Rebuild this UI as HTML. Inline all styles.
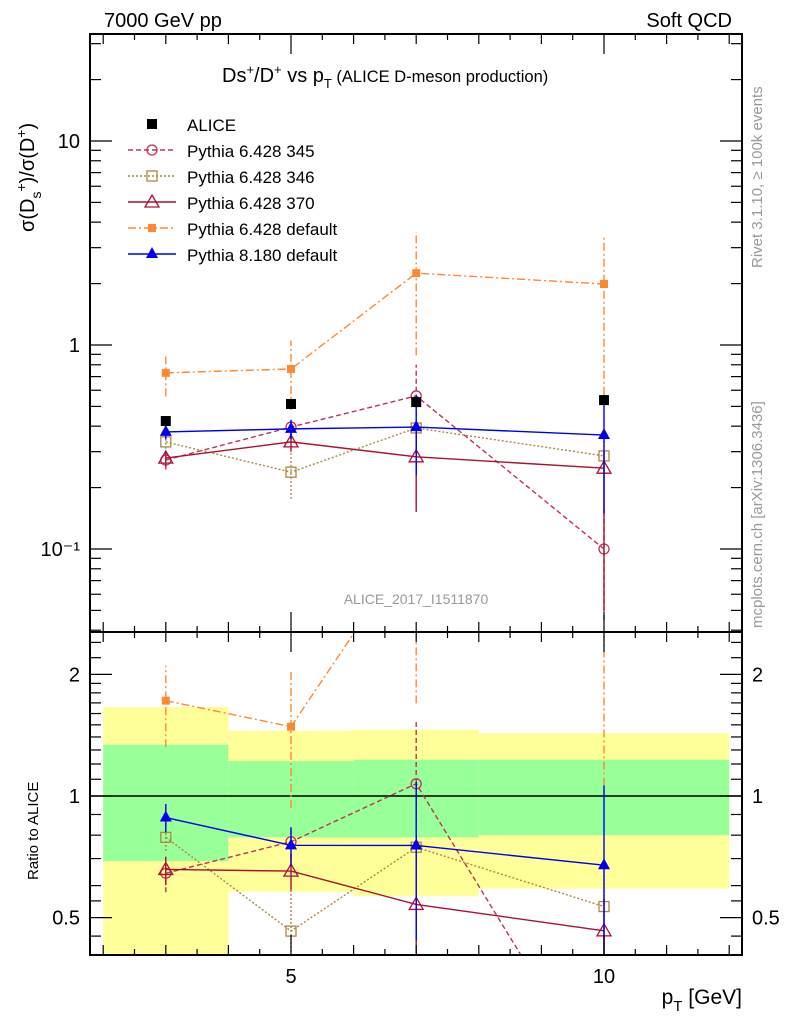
<!DOCTYPE html>
<html><head><meta charset="utf-8"><style>
html,body{margin:0;padding:0;background:#fff;overflow:hidden;width:786px;height:1024px;}
svg{display:block;}
svg text{font-family:"Liberation Sans",sans-serif;}
</style></head><body>
<svg id="c" width="786" height="1024" xmlns="http://www.w3.org/2000/svg">
<rect width="786" height="1024" fill="#fff"/>
<g id="bands"></g>
<g id="ratio"></g>
<g id="main"></g>
<g id="axes"></g>
<text x="104" y="27" font-size="20">7000 GeV pp</text>
<text x="732" y="27" font-size="20" text-anchor="end">Soft QCD</text>
<text x="222" y="82" font-size="20">Ds<tspan dy="-8" font-size="13">+</tspan><tspan dy="8">/D</tspan><tspan dy="-8" font-size="13">+</tspan><tspan dy="8"> vs p</tspan><tspan dy="6" font-size="13">T</tspan><tspan dy="-6" font-size="16.5"> (ALICE D-meson production)</tspan></text>
<text x="416" y="604" font-size="14" fill="#999" text-anchor="middle">ALICE_2017_I1511870</text>
<text transform="translate(762,268) rotate(-90)" font-size="15" fill="#999">Rivet 3.1.10, ≥ 100k events</text>
<text transform="translate(762,628) rotate(-90)" font-size="15" fill="#999">mcplots.cern.ch [arXiv:1306.3436]</text>
<text transform="translate(34,232) rotate(-90)" font-size="20">σ(D<tspan dy="7" font-size="14">s</tspan><tspan dy="-15" font-size="14">+</tspan><tspan dy="8">)/σ(D</tspan><tspan dy="-8" font-size="14">+</tspan><tspan dy="8">)</tspan></text>
<text transform="translate(38,880) rotate(-90)" font-size="15">Ratio to ALICE</text>
<text x="742" y="1004" font-size="21" text-anchor="end">p<tspan dy="7" font-size="15">T</tspan><tspan dy="-7"> [GeV]</tspan></text>
<g id="legend"></g>
</svg>
<script>
const xs=[3,5,7,10];
const alice=[0.424,0.514,0.525,0.537];
const aliceErr=[0.02,0.02,0.02,0.02];
const p345=[0.273,0.396,0.563,0.1];
const p345lo=[0.245,0.36,0.45,0.045];
const p345hi=[0.30,0.43,0.80,0.155];
const p346=[0.335,0.238,0.392,0.286];
const p346lo=[0.31,0.176,0.36,0.22];
const p346hi=[0.36,0.30,0.42,0.35];
const p370=[0.279,0.335,0.283,0.249];
const p370lo=[0.255,0.30,0.152,0.05];
const p370hi=[0.30,0.37,0.42,0.30];
const p6d=[0.73,0.763,2.25,1.99];
const p6dlo=[0.56,0.48,0.89,0.57];
const p6dhi=[0.89,1.05,3.58,3.4];
const p8=[0.375,0.388,0.396,0.362];
const p8lo=[0.345,0.345,0.23,0.15];
const p8hi=[0.405,0.43,0.57,0.57];
const binEdges=[2,4,6,8,12];
const greenLo=[0.69,0.79,0.79,0.80];
const greenHi=[1.34,1.22,1.23,1.23];
const yellowLo=[0.3,0.58,0.565,0.59];
const yellowHi=[1.66,1.45,1.46,1.43];
const ratioTicks=[0.5,1,2];
const xTicks=[5,10];
const mainTicks=[0.1,1,10];
const mainTickLabels=["10\u207B\u00B9","1","10"];

const L=90,R=742,T=34,M=632,B=955;
const X=v=>291+(v-5)*62.6;
const Y=v=>345-Math.log10(v)*204;
const YR=v=>796-Math.log10(v)*404;
const NS="http://www.w3.org/2000/svg";
function mk(tag,parent,attrs){const e=document.createElementNS(NS,tag);for(const k in attrs)e.setAttribute(k,attrs[k]);parent.appendChild(e);return e;}
const gB=document.getElementById('bands'),gR=document.getElementById('ratio'),gM=document.getElementById('main'),gA=document.getElementById('axes'),gL=document.getElementById('legend');

for(let i=0;i<4;i++){
  const x0=X(binEdges[i]),x1=X(binEdges[i+1]);
  const yt=Math.max(M,YR(yellowHi[i])),yb=Math.min(B,YR(yellowLo[i]));
  let r=mk('rect',gB,{x:x0,y:yt,width:x1-x0,height:yb-yt,fill:'#ffff99'});
  
  
  const gt=YR(greenHi[i]),gb=YR(greenLo[i]);
  r=mk('rect',gB,{x:x0,y:gt,width:x1-x0,height:gb-gt,fill:'#99ff99'});
  
  
}
let one=mk('line',gB,{x1:L,x2:R,y1:YR(1),y2:YR(1),stroke:'#000','stroke-width':1.5});



const defs=mk('defs',document.getElementById('c'),{});
const c1=mk('clipPath',defs,{id:'cm'});mk('rect',c1,{x:L,y:T,width:R-L,height:M-T});
const c2=mk('clipPath',defs,{id:'cr'});mk('rect',c2,{x:L,y:M,width:R-L,height:B-M});
gM.setAttribute('clip-path','url(#cm)');gR.setAttribute('clip-path','url(#cr)');

function marker(g,type,x,y,color){
  let e;
  if(type==='circle')e=mk('circle',g,{cx:x,cy:y,r:5,fill:'none',stroke:color,'stroke-width':1.3});
  else if(type==='osq')e=mk('rect',g,{x:x-5,y:y-5,width:10,height:10,fill:'none',stroke:color,'stroke-width':1.3});
  else if(type==='sq')e=mk('rect',g,{x:x-5,y:y-5,width:10,height:10,fill:color});
  else if(type==='fsq')e=mk('rect',g,{x:x-4,y:y-4,width:8,height:8,fill:color});
  else if(type==='otri')e=mk('path',g,{d:`M${x},${y-7}L${x+7},${y+5}L${x-7},${y+5}Z`,fill:'none',stroke:color,'stroke-width':1.3});
  else e=mk('path',g,{d:`M${x},${y-7}L${x+6},${y+4}L${x-6},${y+4}Z`,fill:color});
  return e;
}
const series=[
 {name:'pythia-6428-345',v:p345,lo:p345lo,hi:p345hi,c:'#bb3355',dash:'5,3',m:'circle'},
 {name:'pythia-6428-346',v:p346,lo:p346lo,hi:p346hi,c:'#aa8844',dash:'2,2',m:'osq'},
 {name:'pythia-6428-370',v:p370,lo:p370lo,hi:p370hi,c:'#aa1133',dash:'',m:'otri'},
 {name:'pythia-6428-default',v:p6d,lo:p6dlo,hi:p6dhi,c:'#ff8833',dash:'8,3,2,3',m:'fsq'},
 {name:'pythia-8180-default',v:p8,lo:p8lo,hi:p8hi,c:'#0000ee',dash:'',m:'tri'}
];
function drawSeries(g,s,yf,norm,prefix){
  const pts=xs.map((x,i)=>X(x)+','+yf(s.v[i]/norm[i])).join(' ');
  const pl=mk('polyline',g,{points:pts,fill:'none',stroke:s.c,'stroke-width':1.4,'stroke-dasharray':s.dash});
  
  
  xs.forEach((x,i)=>{
    const e=mk('line',g,{x1:X(x),x2:X(x),y1:yf(s.lo[i]/norm[i]),y2:yf(s.hi[i]/norm[i]),stroke:s.c,'stroke-width':1.4,'stroke-dasharray':s.dash});
    
    
    const m=marker(g,s.m,X(x),yf(s.v[i]/norm[i]),s.c);
    
    
  });
}
const ones=[1,1,1,1];
xs.forEach((x,i)=>{
  const e=mk('line',gM,{x1:X(x),x2:X(x),y1:Y(alice[i]-aliceErr[i]),y2:Y(alice[i]+aliceErr[i]),stroke:'#000','stroke-width':1.4});
  
  
});
series.forEach(s=>drawSeries(gM,s,Y,ones,''));
xs.forEach((x,i)=>{
  const m=marker(gM,'sq',X(x),Y(alice[i]),'#000');
  
  
});
series.forEach(s=>drawSeries(gR,s,YR,alice,'ratio-'));

[[T,M],[M,B]].forEach(([a,b])=>mk('rect',gA,{x:L,y:a,width:R-L,height:b-a,fill:'none',stroke:'#000','stroke-width':2}));
function tk(x1,y1,x2,y2){mk('line',gA,{x1,y1,x2,y2,stroke:'#000','stroke-width':1.2});}
for(let v=2;v<=12;v+=0.5){
  const x=X(v);const len=(v%5===0)?20:(v%1===0?10:6);
  [T,M].forEach(y=>tk(x,y,x,y+len));
  [M,B].forEach(y=>tk(x,y,x,y-len));
}
xTicks.forEach(v=>{const t=mk('text',gA,{x:X(v),y:983,'font-size':20,'text-anchor':'middle'});t.textContent=v;
  
  });
for(let d=-2;d<=1;d++){for(let k=1;k<=9;k++){const v=k*Math.pow(10,d);const y=Y(v);if(y<T||y>M)continue;
  const len=k===1?22:11;tk(L,y,L+len,y);tk(R,y,R-len,y);}}
mainTicks.forEach((v,i)=>{const t=mk('text',gA,{x:80,y:Y(v)+7,'font-size':20,'text-anchor':'end'});t.textContent=mainTickLabels[i];
  
  });
const rm=[0.4,0.45,0.5,0.55,0.6,0.7,0.8,0.9,1,1.1,1.2,1.3,1.4,1.5,1.6,1.7,1.8,1.9,2,2.2,2.4];
rm.forEach(v=>{const y=YR(v);if(y<M||y>B)return;const len=ratioTicks.includes(v)?22:11;tk(L,y,L+len,y);tk(R,y,R-len,y);});
ratioTicks.forEach(v=>{[[80,'end'],[752,'start']].forEach(([x,a])=>{const t=mk('text',gA,{x:x,y:YR(v)+7,'font-size':20,'text-anchor':a});t.textContent=v;
  
  });});

const leg=[{n:'ALICE',c:'#000',m:'sq',dash:null},...series.map((s,i)=>({n:['Pythia 6.428 345','Pythia 6.428 346','Pythia 6.428 370','Pythia 6.428 default','Pythia 8.180 default'][i],c:s.c,m:s.m,dash:s.dash}))];
leg.forEach((e,i)=>{
  const y=124+i*26;
  const g=mk('g',gL,{});
  
  
  if(e.dash!==null)mk('line',g,{x1:128,x2:176,y1:y,y2:y,stroke:e.c,'stroke-width':1.4,'stroke-dasharray':e.dash});
  marker(g,e.m,152,y,e.c);
  const t=mk('text',g,{x:187,y:y+7,'font-size':17});t.textContent=e.n;
});
</script>
</body></html>
